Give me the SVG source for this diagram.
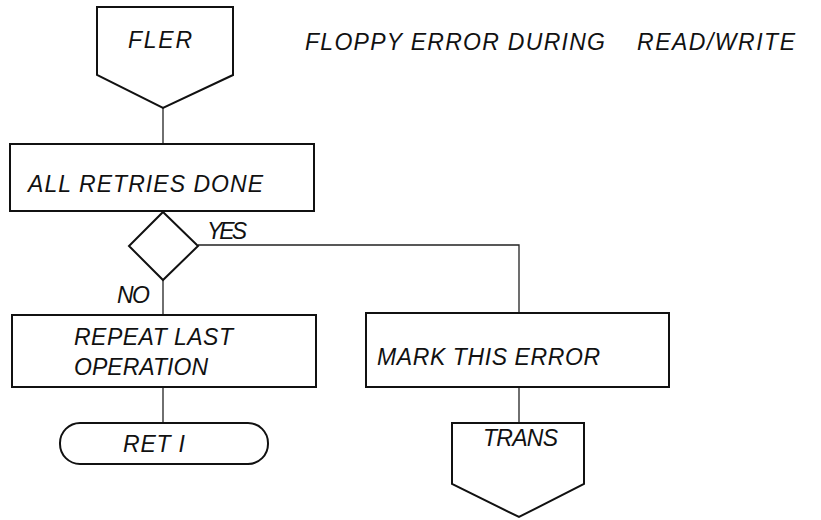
<svg xmlns="http://www.w3.org/2000/svg" width="821" height="520" viewBox="0 0 821 520">
<style>
.shape{fill:none;stroke:#111;stroke-width:2;stroke-linejoin:miter}
.conn{fill:none;stroke:#222;stroke-width:1.3}
.lbl{font-family:"Liberation Sans",Arial,sans-serif;font-style:italic;font-size:23px;fill:#111}
</style>
<rect width="821" height="520" fill="#fff"/>
<g id="connectors">
<path class="conn" d="M163,108 V144"/>
<path class="conn" d="M163,280 V315"/>
<path class="conn" d="M198,245 H519 V313"/>
<path class="conn" d="M163,387 V423"/>
<path class="conn" d="M519,387 V423"/>
</g>
<g id="title">
<text class="lbl"><tspan x="305" y="50" textLength="300" lengthAdjust="spacing">FLOPPY ERROR DURING</tspan><tspan x="637" y="50" textLength="158" lengthAdjust="spacing">READ/WRITE</tspan></text>
</g>
<g id="fler">
<path class="shape" d="M97,7 H233 V75 L163,108 L97,75 Z"/>
<text class="lbl" x="128" y="48" textLength="64" lengthAdjust="spacing">FLER</text>
</g>
<g id="all-retries">
<rect class="shape" x="10" y="144" width="304" height="67"/>
<text class="lbl" x="28" y="192" textLength="235" lengthAdjust="spacing">ALL RETRIES DONE</text>
</g>
<g id="decision">
<path class="shape" d="M163,212 L198,246 L163,280 L129,246 Z"/>
<text class="lbl" x="207" y="239" textLength="40" lengthAdjust="spacing">YES</text>
<text class="lbl" x="117" y="303" textLength="33" lengthAdjust="spacing">NO</text>
</g>
<g id="repeat">
<rect class="shape" x="12" y="315" width="304" height="72"/>
<text class="lbl" x="74" y="345" textLength="159" lengthAdjust="spacing">REPEAT LAST</text>
<text class="lbl" x="74" y="375" textLength="134" lengthAdjust="spacing">OPERATION</text>
</g>
<g id="ret">
<rect class="shape" x="60" y="423" width="208" height="41" rx="20" ry="20"/>
<text class="lbl" x="123" y="452" textLength="62" lengthAdjust="spacing">RET I</text>
</g>
<g id="mark">
<rect class="shape" x="366" y="313" width="303" height="74"/>
<text class="lbl" x="377" y="365" textLength="223" lengthAdjust="spacing">MARK THIS ERROR</text>
</g>
<g id="trans">
<path class="shape" d="M452,423 H584 V484 L519,517 L452,484 Z"/>
<text class="lbl" x="483" y="446" textLength="75" lengthAdjust="spacing">TRANS</text>
</g>
</svg>
